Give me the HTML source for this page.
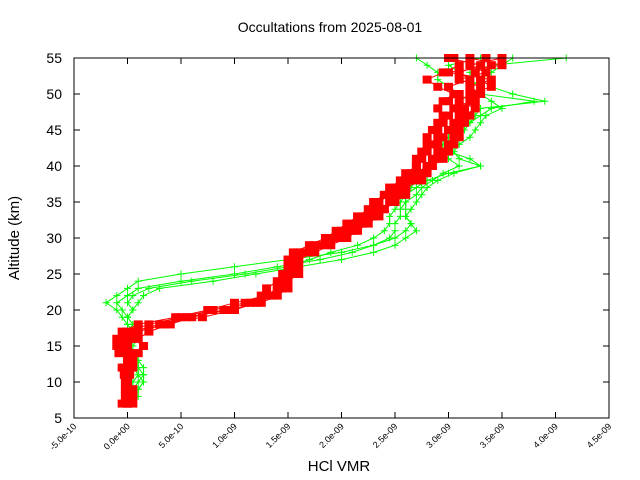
<!DOCTYPE html>
<html><head><meta charset="utf-8"><style>
body{margin:0;background:#fff;}
svg{display:block;font-family:"Liberation Sans",sans-serif;}
</style></head><body>
<svg id="chart" width="640" height="480">
<text x="330" y="32" font-size="14" text-anchor="middle">Occultations from 2025-08-01</text>
<text x="339" y="471" font-size="15" text-anchor="middle">HCl VMR</text>
<text transform="translate(19,238) rotate(-90)" font-size="15" text-anchor="middle">Altitude (km)</text>
<g id="axes"></g>
<g id="series"></g>
<rect x="74" y="58" width="535" height="360" fill="none" stroke="#000" stroke-width="1"/>
</svg>
<script>
const xTicks=[-0.5,0,0.5,1.0,1.5,2.0,2.5,3.0,3.5,4.0,4.5];
const xTickLabels=["-5.0e-10","0.0e+00","5.0e-10","1.0e-09","1.5e-09","2.0e-09","2.5e-09","3.0e-09","3.5e-09","4.0e-09","4.5e-09"];
const yTicks=[5,10,15,20,25,30,35,40,45,50,55];
const altitudes=[7,8,9,10,11,12,13,14,15,16,17,18,19,20,21,22,23,24,25,26,27,28,29,30,31,32,33,34,35,36,37,38,39,40,41,42,43,44,45,46,47,48,49,50,51,52,53,54,55];
const red1=[0.0,0.0,0.0,-0.02,0.0,0.0,0.0,0.0,-0.05,-0.05,0.0,0.2,0.5,0.8,1.1,1.3,1.4,1.5,1.5,1.5,1.55,1.6,1.75,1.9,2.0,2.1,2.2,2.3,2.35,2.45,2.5,2.6,2.65,2.7,2.75,2.8,2.85,2.9,2.9,2.95,3.0,3.05,3.0,3.1,3.0,3.2,3.1,3.3,3.0];
const red2=[-0.05,0.02,0.0,0.0,-0.03,0.02,0.0,-0.08,-0.1,0.0,0.05,0.3,0.7,1.0,1.2,1.35,1.45,1.45,1.55,1.6,1.6,1.7,1.85,2.0,2.1,2.2,2.3,2.35,2.45,2.5,2.6,2.65,2.7,2.8,2.85,2.9,2.9,2.95,3.0,3.05,3.1,3.15,3.2,3.25,3.3,3.1,3.35,3.2,3.5];
const red3=[0.05,0.0,-0.02,0.0,0.0,-0.05,0.0,0.1,0.0,0.1,0.2,0.4,0.6,0.9,1.15,1.25,1.3,1.4,1.45,1.5,1.5,1.65,1.8,1.95,2.05,2.15,2.25,2.4,2.5,2.55,2.55,2.7,2.75,2.8,2.9,2.95,3.0,3.05,3.1,3.15,3.2,3.1,3.25,3.3,3.2,3.4,3.0,3.5,3.2];
const red4=[0.0,0.05,0.0,0.0,0.02,-0.03,0.05,0.0,0.0,-0.1,-0.05,0.1,0.45,0.75,1.0,1.3,1.4,1.5,1.6,1.55,1.5,1.55,1.7,1.85,1.95,2.05,2.15,2.25,2.3,2.4,2.45,2.55,2.6,2.7,2.7,2.75,2.8,2.8,2.85,2.9,2.95,2.9,2.95,3.05,2.9,2.8,2.95,3.1,3.05];
const red5=[0.0,-0.02,0.05,0.0,0.0,0.05,0.02,0.05,0.15,0.05,0.1,0.35,0.55,0.95,1.25,1.4,1.5,1.45,1.5,1.55,1.6,1.75,1.9,2.05,2.15,2.25,2.35,2.4,2.5,2.6,2.6,2.75,2.8,2.85,2.95,3.0,3.05,3.1,3.05,3.1,3.15,3.25,3.1,3.2,3.4,3.3,3.25,3.4,3.35];
const green1=[0.0,0.05,0.05,0.05,0.1,0.1,0.05,0.05,0.0,0.0,0.0,0.0,-0.05,-0.1,-0.2,-0.1,0.0,0.1,0.5,1.0,1.5,2.0,2.3,2.5,2.6,2.65,2.6,2.6,2.6,2.6,2.7,2.8,3.0,3.3,3.2,3.0,3.0,3.05,3.1,3.2,3.25,3.3,3.9,3.6,3.4,3.3,3.2,3.4,4.1];
const green2=[0.0,0.0,0.1,0.15,0.15,0.1,0.1,0.05,0.0,0.0,0.05,0.0,0.0,-0.05,-0.1,0.0,0.1,0.5,1.0,1.4,1.8,2.1,2.3,2.45,2.5,2.5,2.55,2.55,2.6,2.7,2.75,2.85,2.95,3.1,3.0,2.95,3.0,3.1,3.15,3.2,3.3,3.4,3.8,3.3,3.3,3.2,3.1,3.0,3.3];
const green3=[0.0,0.0,0.05,0.1,0.15,0.15,0.1,0.05,0.05,0.1,0.05,0.0,0.0,0.05,0.0,0.05,0.2,0.6,1.1,1.5,1.7,1.9,2.15,2.3,2.4,2.45,2.45,2.5,2.55,2.6,2.65,2.7,2.8,2.8,2.85,2.9,2.95,3.0,3.0,3.05,3.1,3.1,3.2,3.1,3.0,2.9,2.9,2.8,2.7];
const green4=[0.05,0.1,0.1,0.15,0.1,0.05,0.05,0.0,0.0,0.05,0.0,0.05,0.0,0.05,0.1,0.15,0.3,0.8,1.2,1.6,2.0,2.3,2.5,2.6,2.7,2.65,2.6,2.65,2.7,2.75,2.8,2.9,3.05,3.3,3.1,3.05,3.1,3.2,3.25,3.3,3.35,3.5,3.4,3.3,3.2,3.3,3.4,3.5,3.6];
const xMin=-0.5,xMax=4.5,yMin=5,yMax=55,L=74,R=609,T=58,B=418;
const NS="http://www.w3.org/2000/svg";
function xs(v){return L+(v-xMin)/(xMax-xMin)*(R-L);}
function ys(v){return B-(v-yMin)/(yMax-yMin)*(B-T);}
function mk(tag,attrs,parent){const e=document.createElementNS(NS,tag);for(const k in attrs)e.setAttribute(k,attrs[k]);parent.appendChild(e);return e;}
const axes=document.getElementById('axes');
xTicks.forEach((t,i)=>{
  const x=xs(t);
  const tk=mk('path',{d:`M${x},${B}v-6M${x},${T}v6`,stroke:'#000','stroke-width':1},axes);
  
  
  const lb=mk('text',{transform:`translate(${x+3},${B+9}) rotate(-45)`,'font-size':9,'text-anchor':'end'},axes);
  lb.textContent=xTickLabels[i];
  
  
});
yTicks.forEach(t=>{
  const y=ys(t);
  const tk=mk('path',{d:`M${L},${y}h6M${R},${y}h-6`,stroke:'#000','stroke-width':1},axes);
  
  
  const lb=mk('text',{x:L-12,y:y+5,'font-size':14,'text-anchor':'end'},axes);
  lb.textContent=t;
  
  
});
const ser=document.getElementById('series');
function drawGreen(arr){
  const g=mk('g',{},ser);
  
  
  const d=arr.map((v,i)=>(i?'L':'M')+xs(v)+','+ys(altitudes[i])).join('');
  mk('path',{d:d,fill:'none',stroke:'#00ff00','stroke-width':1},g);
  arr.forEach((v,i)=>{const x=xs(v),y=ys(altitudes[i]);
    const m=mk('path',{d:`M${x-3.5},${y}h7M${x},${y-3.5}v7`,stroke:'#00ff00','stroke-width':1},g);
    
    });
}
function drawRed(arr){
  const g=mk('g',{},ser);
  
  
  const d=arr.map((v,i)=>(i?'L':'M')+xs(v)+','+ys(altitudes[i])).join('');
  mk('path',{d:d,fill:'none',stroke:'#ff0000','stroke-width':1},g);
  arr.forEach((v,i)=>{const x=xs(v),y=ys(altitudes[i]);
    const m=mk('rect',{x:x-4.5,y:y-4,width:9,height:8,fill:'#ff0000'},g);
    
    });
}
[green1,green2,green3,green4].forEach(drawGreen);
[red1,red2,red3,red4,red5].forEach(drawRed);
</script>
</body></html>
